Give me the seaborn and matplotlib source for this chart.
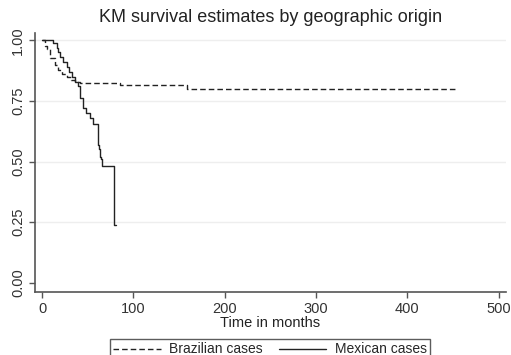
import seaborn as sns
import matplotlib.pyplot as plt
import pandas as pd

# Curvas de Kaplan-Meier
bra_t = [0, 3, 5, 9, 14, 18, 22, 27, 32, 36, 42, 85, 159, 452]
bra_s = [1.0, 0.975, 0.965, 0.925, 0.90, 0.876, 0.862, 0.848, 0.838, 0.83, 0.825, 0.817, 0.80, 0.80]

mex_t = [0, 12, 16, 18, 20, 23, 27, 30, 33, 36, 39, 42, 45, 48, 52, 56, 61, 62, 64, 65, 66, 79, 81]
mex_s = [1.0, 0.99, 0.97, 0.95, 0.93, 0.91, 0.89, 0.87, 0.85, 0.83, 0.81, 0.76, 0.72, 0.70,
         0.68, 0.655, 0.57, 0.55, 0.52, 0.51, 0.48, 0.24, 0.24]

x_ticks = [0, 100, 200, 300, 400, 500]
y_ticks = [0.0, 0.25, 0.50, 0.75, 1.00]
y_labels = ["0.00", "0.25", "0.50", "0.75", "1.00"]

bra = pd.DataFrame({"t": bra_t, "s": bra_s})
mex = pd.DataFrame({"t": mex_t, "s": mex_s})

sns.set_style("white")
plt.rcParams['font.family'] = ['Liberation Sans', 'DejaVu Sans']

fig = plt.figure(figsize=(5.11, 3.55), dpi=100)
ax = fig.add_axes([35 / 511, 1 - 292 / 355, 471 / 511, 259 / 355])

sns.lineplot(data=bra, x="t", y="s", ax=ax, drawstyle="steps-post", color="#222222",
             linestyle=(0, (4, 2.2)), linewidth=1.0, label="Brazilian cases")
sns.lineplot(data=mex, x="t", y="s", ax=ax, drawstyle="steps-post", color="#222222",
             linewidth=1.0, label="Mexican cases")

ax.set_xlim(-7.7, 508)
ax.set_ylim(-0.038, 1.03)
ax.set_xticks(x_ticks)
ax.set_yticks(y_ticks)
ax.set_yticklabels(y_labels, rotation=90, va="center")
for y in y_ticks[1:]:
    ax.axhline(y, color="#eeeeee", linewidth=1.0, zorder=0)

for s in ["top", "right"]:
    ax.spines[s].set_visible(False)
for s in ["left", "bottom"]:
    ax.spines[s].set_color("#555555")
    ax.spines[s].set_linewidth(1.2)
ax.tick_params(axis="both", direction="out", length=4, width=1, color="#555555",
               labelsize=10.5, labelcolor="#333333", pad=3)
ax.tick_params(axis="both", which="both", bottom=True, left=True)

ax.set_xlabel("Time in months", fontsize=10.5, color="#222222", labelpad=0)
ax.set_ylabel("")
ax.set_title("KM survival estimates by geographic origin", fontsize=13, color="#222222", pad=8)

ax.get_legend().remove()
h, l = ax.get_legend_handles_labels()
leg = fig.legend(h, l, loc="upper center", bbox_to_anchor=(270 / 511, 1 - 332 / 355), ncol=2,
                 frameon=True, fancybox=False, fontsize=10, handlelength=3.4,
                 columnspacing=1.2, borderpad=0.25, handletextpad=0.6)
leg.get_frame().set_edgecolor("#333333")
leg.get_frame().set_linewidth(1.0)

fig.savefig("out.png", dpi=100)
